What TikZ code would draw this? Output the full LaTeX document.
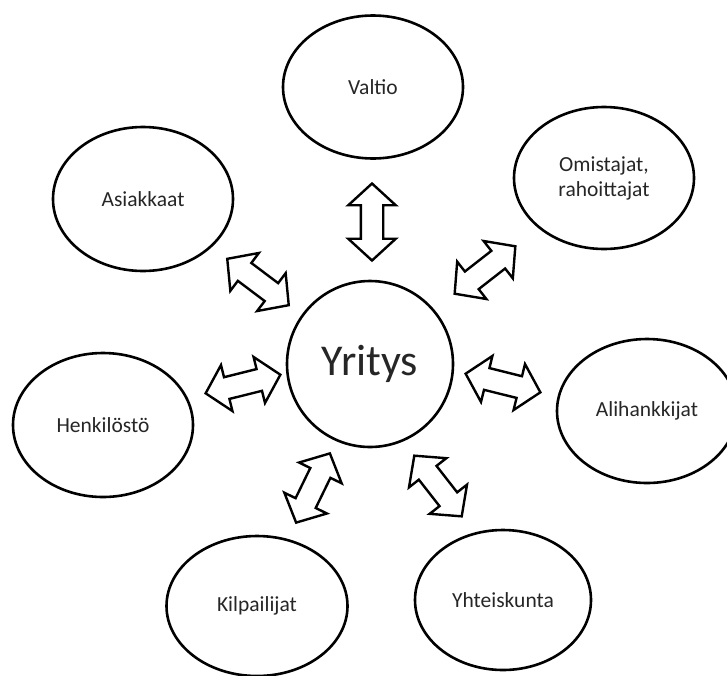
\documentclass[tikz,border=0pt]{standalone}
\usepackage{fontspec}
\setmainfont{Carlito}
\usetikzlibrary{shapes.geometric,shapes.arrows}

\tikzset{
  sidosryhma/.style={ellipse, draw, line width=2.6pt, minimum width=180pt, minimum height=144pt,
    inner sep=0pt, align=center, font=\fontsize{21.5}{25}\selectfont, text=black!85},
  nuoli/.style={double arrow, draw, line width=2.4pt, minimum height=77pt,
    inner xsep=0pt, inner ysep=10pt,
    double arrow head extend=12.5pt, double arrow tip angle=95},
}

\begin{document}
\begin{tikzpicture}[x=1pt, y=-1pt]
        \useasboundingbox (0,0) rectangle (727,675);
        % yritys keskella
        \node[circle, draw, line width=2.6pt, minimum size=166pt, inner sep=0pt,
          font=\fontsize{44}{50}\selectfont, text=black!85] (yritys) at (370,364) {Yritys};
        % sidosryhmat
        \node[sidosryhma, minimum height=143pt] (valtio) at (373,87) {Valtio};
        \node[sidosryhma] (asiakkaat) at (143,199) {Asiakkaat};
        \node[sidosryhma, minimum height=142pt] (omistajat) at (604,178) {Omistajat,\\rahoittajat};
        \node[sidosryhma] (henkilosto) at (103,425) {Henkilöstö};
        \node[sidosryhma] (alihankkijat) at (647,411) {Alihankkijat};
        \node[sidosryhma, minimum width=181pt, minimum height=140pt] (kilpailijat) at (257,606) {Kilpailijat};
        \node[sidosryhma, minimum width=176pt, minimum height=140pt] (yhteiskunta) at (503,600) {Yhteiskunta};
        % nuolet
        \node[nuoli, rotate=90] (n-valtio) at (372,222) {};
        \node[nuoli, rotate=38] (n-omistajat) at (485,270) {};
        \node[nuoli, rotate=-37] (n-asiakkaat) at (258,282) {};
        \node[nuoli, rotate=14] (n-henkilosto) at (243,384) {};
        \node[nuoli, rotate=-14] (n-alihankkijat) at (503,383) {};
        \node[nuoli, rotate=64] (n-kilpailijat) at (313,488) {};
        \node[nuoli, rotate=-52] (n-yhteiskunta) at (438,486) {};
    \end{tikzpicture}
\end{document}
